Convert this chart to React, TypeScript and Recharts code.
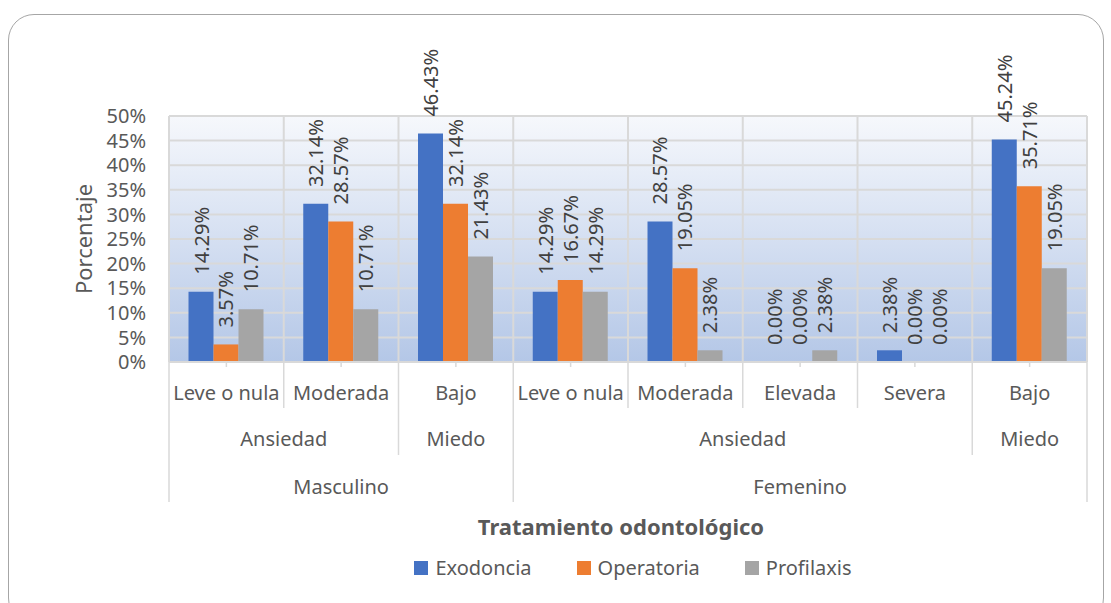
import { BarChart, Bar, XAxis, YAxis, CartesianGrid, Legend, LabelList } from 'recharts'

const categories = ['Leve o nula', 'Moderada', 'Bajo', 'Leve o nula', 'Moderada', 'Elevada', 'Severa', 'Bajo']
const factors = ['Ansiedad', 'Ansiedad', 'Miedo', 'Ansiedad', 'Ansiedad', 'Ansiedad', 'Ansiedad', 'Miedo']
const sexes = ['Masculino', 'Masculino', 'Masculino', 'Femenino', 'Femenino', 'Femenino', 'Femenino', 'Femenino']

const exodoncia = [14.29, 32.14, 46.43, 14.29, 28.57, 0, 2.38, 45.24]
const operatoria = [3.57, 28.57, 32.14, 16.67, 19.05, 0, 0, 35.71]
const profilaxis = [10.71, 10.71, 21.43, 14.29, 2.38, 2.38, 0, 19.05]

const yTicks = [0, 5, 10, 15, 20, 25, 30, 35, 40, 45, 50]

const series = [
  { key: 'exodoncia', name: 'Exodoncia', color: '#4472C4' },
  { key: 'operatoria', name: 'Operatoria', color: '#ED7D31' },
  { key: 'profilaxis', name: 'Profilaxis', color: '#A5A5A5' },
]

const data = categories.map((c, i) => ({
  idx: i,
  sub: c,
  exodoncia: exodoncia[i],
  operatoria: operatoria[i],
  profilaxis: profilaxis[i],
}))

const W = 1111
const H = 603
const MARGIN = { top: 116, right: 24, bottom: 0, left: 70 }
const Y_WIDTH = 99
const PLOT_W = W - MARGIN.left - Y_WIDTH - MARGIN.right
const TEXT = '#595959'
const LINE = '#d9d9d9'

const level1Keys = categories.map((_, i) => String(i))
const level2Keys = categories.map((_, i) => sexes[i] + '|' + factors[i])
const level3Keys = sexes

const makeTick = (labels: string[], keys: string[], lineLen: number, textDy: number, withMark: boolean) =>
  (props: any) => {
    const { x, y, payload } = props
    const i = payload.index ?? props.index
    const half = payload.offset || PLOT_W / categories.length / 2
    const start = i === 0 || keys[i] !== keys[i - 1]
    const last = i === keys.length - 1
    let n = 1
    while (i + n < keys.length && keys[i + n] === keys[i]) n++
    return (
      <g>
        {withMark && <line x1={x} x2={x} y1={y} y2={y + 5} stroke={LINE} strokeWidth={1.5} />}
        {start && <line x1={x - half} x2={x - half} y1={y} y2={y + lineLen} stroke={LINE} strokeWidth={1.5} />}
        {last && <line x1={x + half} x2={x + half} y1={y} y2={y + lineLen} stroke={LINE} strokeWidth={1.5} />}
        {start && (
          <text x={x - half + n * half} y={y + textDy} dy="0.35em" textAnchor="middle" fill={TEXT} fontSize={20}>
            {labels[i]}
          </text>
        )}
      </g>
    )
  }

const renderValueLabel = (props: any) => {
  const { x, y, width, height, value } = props
  const cx = x + width / 2
  // zero bars get a hairline height, so measure from their base
  const top = value === 0 ? y + height : y
  const cy = top - 17
  return (
    <text
      x={cx}
      y={cy}
      transform={`rotate(-90, ${cx}, ${cy})`}
      textAnchor="start"
      dominantBaseline="central"
      fill="#404040"
      fontSize={20}
    >
      {Number(value).toFixed(2)}%
    </text>
  )
}

const YTitle = (props: any) => {
  const { x, y, height } = props.viewBox
  const cx = x + 13
  const cy = y + height / 2
  return (
    <text x={cx} y={cy} transform={`rotate(-90, ${cx}, ${cy})`} textAnchor="middle" dominantBaseline="central" fill={TEXT} fontSize={22}>
      Porcentaje
    </text>
  )
}

const LegendBlock = () => (
  <div style={{ height: 98, width: W, position: 'relative', color: TEXT, fontFamily: 'Noto Sans' }}>
    <div style={{ position: 'absolute', top: 6, left: 0, width: 1242, textAlign: 'center', fontSize: 22, fontWeight: 700 }}>
      Tratamiento odontológico
    </div>
    <div style={{ position: 'absolute', top: 49, left: 0, width: 1266, display: 'flex', justifyContent: 'center', fontSize: 20 }}>
      {series.map((s, i) => (
        <div key={s.key} style={{ display: 'flex', alignItems: 'center', marginRight: i < series.length - 1 ? 45 : 0 }}>
          <span style={{ width: 14, height: 14, background: s.color, display: 'inline-block', marginRight: 7 }} />
          <span>{s.name}</span>
        </div>
      ))}
    </div>
  </div>
)

export default function App() {
  return (
    <div style={{ position: 'absolute', left: 0, top: 0, width: W, height: H, fontFamily: 'Noto Sans', background: '#fff' }}>
      <div
        style={{
          position: 'absolute',
          left: 8,
          top: 14,
          width: 1096,
          height: 610,
          border: '1.5px solid #a6a6a6',
          borderRadius: 26,
          boxSizing: 'border-box',
        }}
      />
      <BarChart
        width={W}
        height={H}
        data={data}
        margin={MARGIN}
        barCategoryGap="17%"
        barGap={0}
        style={{ fontFamily: 'Noto Sans' }}
      >
        <defs>
          <linearGradient id="plotBg" x1="0" y1="0" x2="0" y2="1">
            <stop offset="0%" stopColor="#f6f8fc" />
            <stop offset="100%" stopColor="#b4c7e7" />
          </linearGradient>
        </defs>
        <CartesianGrid
          fill="url(#plotBg)"
          stroke={LINE}
          strokeWidth={2}
          verticalCoordinatesGenerator={({ offset }: any) =>
            Array.from({ length: categories.length + 1 }, (_, i) => offset.left + (i * offset.width) / categories.length)
          }
        />
        <XAxis
          dataKey="idx"
          type="category"
          interval={0}
          height={46}
          tickSize={0}
          tickMargin={0}
          tickLine={false}
          axisLine={{ stroke: LINE, strokeWidth: 2 }}
          tick={makeTick(categories, level1Keys, 46, 31, true)}
        />
        <XAxis
          xAxisId="lvl2"
          dataKey="idx"
          type="category"
          interval={0}
          height={47}
          tickSize={0}
          tickMargin={0}
          tickLine={false}
          axisLine={false}
          tick={makeTick(factors, level2Keys, 47, 31, false)}
        />
        <XAxis
          xAxisId="lvl3"
          dataKey="idx"
          type="category"
          interval={0}
          height={50}
          tickSize={0}
          tickMargin={0}
          tickLine={false}
          axisLine={false}
          tick={makeTick(sexes, level3Keys, 47, 32, false)}
        />
        <YAxis
          width={Y_WIDTH}
          domain={[0, 50]}
          ticks={yTicks}
          interval={0}
          tickFormatter={(v: number) => `${v}%`}
          axisLine={false}
          tickLine={false}
          tickSize={0}
          tickMargin={23}
          tick={{ fill: TEXT, fontSize: 20 }}
          label={<YTitle />}
        />
        <Legend
          verticalAlign="bottom"
          height={98}
          content={<LegendBlock />}
          wrapperStyle={{ left: 0, top: 505, width: W, height: 98 }}
        />
        {series.map((s) => (
          <Bar
            key={s.key}
            dataKey={s.key}
            name={s.name}
            fill={s.color}
            minPointSize={(v: number) => (v === 0 ? 0.01 : 0)}
            isAnimationActive={false}
          >
            <LabelList dataKey={s.key} content={renderValueLabel} />
          </Bar>
        ))}
      </BarChart>
    </div>
  )
}
